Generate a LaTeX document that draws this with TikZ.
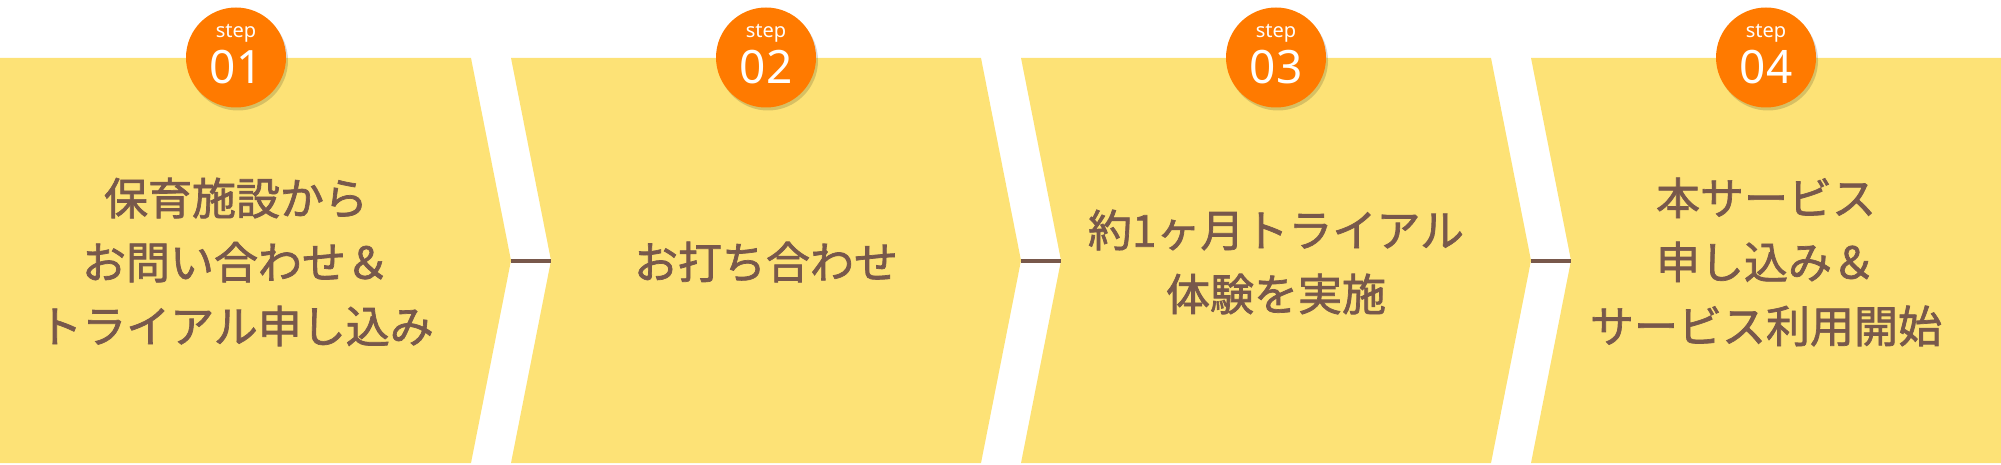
\documentclass[tikz,border=0pt]{standalone}
\usepackage{fontspec}
\setmainfont{Noto Sans}
\newfontfamily\jpfont{Noto Sans CJK JP}[FakeBold=1.6]
\usepackage{tikz}
\usetikzlibrary{shadows}
\definecolor{panelyellow}{HTML}{FDE276}
\definecolor{steporange}{HTML}{FF7A00}
\definecolor{textbrown}{HTML}{78584B}

\begin{document}
\begin{tikzpicture}[x=0.5pt, y=-0.5pt,
    P/.style = {fill=panelyellow},% panel shapes
    S/.style = {circle, fill=steporange, minimum size=50pt, inner sep=0pt,% step badges
                drop shadow={shadow xshift=1pt, shadow yshift=-1.5pt,
                             opacity=0.15, fill=black}},
    L/.style = {text=white, inner sep=0pt, font=\fontsize{10}{10}\selectfont},
    N/.style = {text=white, inner sep=0pt, font=\fontsize{23}{23}\selectfont},
    T/.style = {align=center, text=textbrown, inner sep=0pt,
                font=\jpfont\fontsize{22}{32}\selectfont},
    C/.style = {draw=textbrown, line width=2pt},
                        ]
\useasboundingbox (0,0) rectangle (2001,465);
% panels
\path[P] (0,58) -- (471,58) -- (511,260.5) coordinate (tip1)
         -- (471,463) -- (0,463) -- cycle;
\foreach \k/\l in {2/511,3/1021}% <-- left edge of middle panels
    \path[P] (\l,58) -- ++(470,0) -- ++(40,202.5) coordinate (tip\k)
             -- ++(-40,202.5) -- ++(-470,0) -- ++(40,-202.5) coordinate (notch\k) -- cycle;
\path[P] (1531,58) -- (2001,58) -- (2001,463) -- (1531,463)
         -- (1571,260.5) coordinate (notch4) -- cycle;
\foreach \a/\b in {1/2,2/3,3/4}
    \draw[C] (tip\a) -- (notch\b);
% badges
\foreach \k/\x in {1/236,2/766,3/1276,4/1766}{
    \node[S] (s\k) at (\x,57.5) {};
    \node[L] (l\k) at (\x,33) {step};
    \node[N] (n\k) at (\x,67) {0\k};
}
\node[T] (t1) at (236,262) {保育施設から\\お問い合わせ＆\\トライアル申し込み};
\node[T] (t2) at (766,262) {お打ち合わせ};
\node[T] (t3) at (1276,262) {約1ヶ月トライアル\\体験を実施};
\node[T] (t4) at (1766,262) {本サービス\\申し込み＆\\サービス利用開始};
\end{tikzpicture}
\end{document}
